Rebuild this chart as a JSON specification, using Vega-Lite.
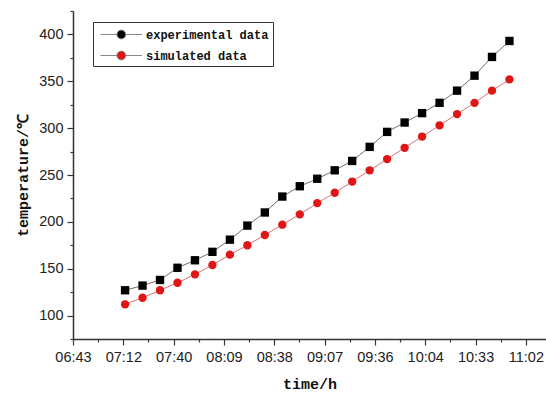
{
  "$schema": "https://vega.github.io/schema/vega-lite/v6.json",
  "width": 473,
  "height": 328,
  "autosize": {"type": "none"},
  "padding": {"left": 73, "top": 11, "right": 0, "bottom": 55},
  "background": "white",
  "config": {"view": {"stroke": null}},
  "data": {
    "values": [
      {"time": "2020-01-01T07:13:00Z", "series": "experimental data", "temp": 127},
      {"time": "2020-01-01T07:23:00Z", "series": "experimental data", "temp": 132},
      {"time": "2020-01-01T07:33:00Z", "series": "experimental data", "temp": 138},
      {"time": "2020-01-01T07:43:00Z", "series": "experimental data", "temp": 151},
      {"time": "2020-01-01T07:53:00Z", "series": "experimental data", "temp": 159},
      {"time": "2020-01-01T08:03:00Z", "series": "experimental data", "temp": 168},
      {"time": "2020-01-01T08:13:00Z", "series": "experimental data", "temp": 181},
      {"time": "2020-01-01T08:23:00Z", "series": "experimental data", "temp": 196},
      {"time": "2020-01-01T08:33:00Z", "series": "experimental data", "temp": 210},
      {"time": "2020-01-01T08:43:00Z", "series": "experimental data", "temp": 227},
      {"time": "2020-01-01T08:53:00Z", "series": "experimental data", "temp": 238},
      {"time": "2020-01-01T09:03:00Z", "series": "experimental data", "temp": 246},
      {"time": "2020-01-01T09:13:00Z", "series": "experimental data", "temp": 255},
      {"time": "2020-01-01T09:23:00Z", "series": "experimental data", "temp": 265},
      {"time": "2020-01-01T09:33:00Z", "series": "experimental data", "temp": 280},
      {"time": "2020-01-01T09:43:00Z", "series": "experimental data", "temp": 296},
      {"time": "2020-01-01T09:53:00Z", "series": "experimental data", "temp": 306},
      {"time": "2020-01-01T10:03:00Z", "series": "experimental data", "temp": 316},
      {"time": "2020-01-01T10:13:00Z", "series": "experimental data", "temp": 327},
      {"time": "2020-01-01T10:23:00Z", "series": "experimental data", "temp": 340},
      {"time": "2020-01-01T10:33:00Z", "series": "experimental data", "temp": 356},
      {"time": "2020-01-01T10:43:00Z", "series": "experimental data", "temp": 376},
      {"time": "2020-01-01T10:53:00Z", "series": "experimental data", "temp": 393},
      {"time": "2020-01-01T07:13:00Z", "series": "simulated data", "temp": 112},
      {"time": "2020-01-01T07:23:00Z", "series": "simulated data", "temp": 119},
      {"time": "2020-01-01T07:33:00Z", "series": "simulated data", "temp": 127},
      {"time": "2020-01-01T07:43:00Z", "series": "simulated data", "temp": 135},
      {"time": "2020-01-01T07:53:00Z", "series": "simulated data", "temp": 144},
      {"time": "2020-01-01T08:03:00Z", "series": "simulated data", "temp": 154},
      {"time": "2020-01-01T08:13:00Z", "series": "simulated data", "temp": 165},
      {"time": "2020-01-01T08:23:00Z", "series": "simulated data", "temp": 175},
      {"time": "2020-01-01T08:33:00Z", "series": "simulated data", "temp": 186},
      {"time": "2020-01-01T08:43:00Z", "series": "simulated data", "temp": 197},
      {"time": "2020-01-01T08:53:00Z", "series": "simulated data", "temp": 208},
      {"time": "2020-01-01T09:03:00Z", "series": "simulated data", "temp": 220},
      {"time": "2020-01-01T09:13:00Z", "series": "simulated data", "temp": 231},
      {"time": "2020-01-01T09:23:00Z", "series": "simulated data", "temp": 243},
      {"time": "2020-01-01T09:33:00Z", "series": "simulated data", "temp": 255},
      {"time": "2020-01-01T09:43:00Z", "series": "simulated data", "temp": 267},
      {"time": "2020-01-01T09:53:00Z", "series": "simulated data", "temp": 279},
      {"time": "2020-01-01T10:03:00Z", "series": "simulated data", "temp": 291},
      {"time": "2020-01-01T10:13:00Z", "series": "simulated data", "temp": 303},
      {"time": "2020-01-01T10:23:00Z", "series": "simulated data", "temp": 315},
      {"time": "2020-01-01T10:33:00Z", "series": "simulated data", "temp": 327},
      {"time": "2020-01-01T10:43:00Z", "series": "simulated data", "temp": 340},
      {"time": "2020-01-01T10:53:00Z", "series": "simulated data", "temp": 352}
    ]
  },
  "encoding": {
    "x": {
      "field": "time",
      "type": "temporal",
      "scale": {
        "type": "utc",
        "nice": false,
        "domain": [
          {"year": 2020, "month": 1, "date": 1, "hours": 6, "minutes": 43, "seconds": 12, "utc": true},
          {"year": 2020, "month": 1, "date": 1, "hours": 11, "minutes": 13, "seconds": 55, "utc": true}
        ]
      },
      "axis": {
        "title": "time/h",
        "format": "%H:%M",
        "grid": false,
        "values": [
          {"year": 2020, "month": 1, "date": 1, "hours": 6, "minutes": 43, "seconds": 12, "utc": true},
          {"year": 2020, "month": 1, "date": 1, "hours": 6, "minutes": 57, "seconds": 36, "utc": true},
          {"year": 2020, "month": 1, "date": 1, "hours": 7, "minutes": 12, "seconds": 0, "utc": true},
          {"year": 2020, "month": 1, "date": 1, "hours": 7, "minutes": 26, "seconds": 24, "utc": true},
          {"year": 2020, "month": 1, "date": 1, "hours": 7, "minutes": 40, "seconds": 48, "utc": true},
          {"year": 2020, "month": 1, "date": 1, "hours": 7, "minutes": 55, "seconds": 12, "utc": true},
          {"year": 2020, "month": 1, "date": 1, "hours": 8, "minutes": 9, "seconds": 36, "utc": true},
          {"year": 2020, "month": 1, "date": 1, "hours": 8, "minutes": 24, "seconds": 0, "utc": true},
          {"year": 2020, "month": 1, "date": 1, "hours": 8, "minutes": 38, "seconds": 24, "utc": true},
          {"year": 2020, "month": 1, "date": 1, "hours": 8, "minutes": 52, "seconds": 48, "utc": true},
          {"year": 2020, "month": 1, "date": 1, "hours": 9, "minutes": 7, "seconds": 12, "utc": true},
          {"year": 2020, "month": 1, "date": 1, "hours": 9, "minutes": 21, "seconds": 36, "utc": true},
          {"year": 2020, "month": 1, "date": 1, "hours": 9, "minutes": 36, "seconds": 0, "utc": true},
          {"year": 2020, "month": 1, "date": 1, "hours": 9, "minutes": 50, "seconds": 24, "utc": true},
          {"year": 2020, "month": 1, "date": 1, "hours": 10, "minutes": 4, "seconds": 48, "utc": true},
          {"year": 2020, "month": 1, "date": 1, "hours": 10, "minutes": 19, "seconds": 12, "utc": true},
          {"year": 2020, "month": 1, "date": 1, "hours": 10, "minutes": 33, "seconds": 36, "utc": true},
          {"year": 2020, "month": 1, "date": 1, "hours": 10, "minutes": 48, "seconds": 0, "utc": true},
          {"year": 2020, "month": 1, "date": 1, "hours": 11, "minutes": 2, "seconds": 24, "utc": true}
        ],
        "labelExpr": "round((datum.value - utc(2020,0,1,6,43,12)) / 864000) % 2 === 0 ? datum.label : ''",
        "tickSize": {"condition": {"test": "round((datum.value - utc(2020,0,1,6,43,12)) / 864000) % 2 === 0", "value": 6}, "value": 3},
        "labelFont": "Liberation Sans",
        "labelFontSize": 14.5,
        "labelColor": "#222",
        "labelPadding": 5,
        "labelFlush": false,
        "labelOverlap": false,
        "domainColor": "#333",
        "domainWidth": 1.5,
        "tickColor": "#333",
        "tickWidth": 1.2,
        "titleFont": "Liberation Mono",
        "titleFontWeight": "bold",
        "titleFontSize": 15,
        "titleColor": "#111",
        "titlePadding": 13
      }
    },
    "y": {
      "field": "temp",
      "type": "quantitative",
      "scale": {"domain": [75, 425], "nice": false, "zero": false},
      "axis": {
        "title": "temperature/℃",
        "grid": false,
        "values": [75, 100, 125, 150, 175, 200, 225, 250, 275, 300, 325, 350, 375, 400, 425],
        "labelExpr": "datum.value % 50 === 0 ? datum.label : ''",
        "tickSize": {"condition": {"test": "datum.value % 50 === 0", "value": 6}, "value": 3},
        "labelFont": "Liberation Sans",
        "labelFontSize": 14.5,
        "labelColor": "#222",
        "labelPadding": 4,
        "labelFlush": false,
        "labelOverlap": false,
        "domainColor": "#333",
        "domainWidth": 1.5,
        "tickColor": "#333",
        "tickWidth": 1.2,
        "titleFont": "Liberation Mono",
        "titleFontWeight": "bold",
        "titleFontSize": 15,
        "titleColor": "#111",
        "titlePadding": 8
      }
    }
  },
  "layer": [
    {
      "mark": {"type": "line", "strokeWidth": 1},
      "encoding": {
        "stroke": {
          "field": "series",
          "type": "nominal",
          "scale": {"domain": ["simulated data", "experimental data"], "range": ["#e07070", "#6e6e6e"]},
          "legend": null
        }
      }
    },
    {
      "mark": {"type": "point", "filled": true, "opacity": 1, "size": 70},
      "encoding": {
        "color": {
          "field": "series",
          "type": "nominal",
          "scale": {"domain": ["experimental data", "simulated data"], "range": ["#000000", "#e01515"]},
          "legend": {
            "title": null,
            "orient": "none",
            "legendX": 20,
            "legendY": 11,
            "strokeColor": "#333",
            "fillColor": "white",
            "padding": 4,
            "symbolSize": 256,
            "symbolOffset": 15.8,
            "labelOffset": 16.2,
            "rowPadding": 6,
            "symbolType": "M-2.6,0H-0.55M0.55,0H2.6M-0.55,0A0.55,0.55 0 1,0 0.55,0A0.55,0.55 0 1,0 -0.55,0Z",
            "symbolStrokeColor": "#888888",
            "symbolStrokeWidth": 1,
            "labelFont": "Liberation Mono",
            "labelFontWeight": "bold",
            "labelFontSize": 12,
            "labelColor": "#111"
          }
        },
        "shape": {
          "field": "series",
          "type": "nominal",
          "scale": {"domain": ["simulated data", "experimental data"], "range": ["circle", "square"]},
          "legend": null
        }
      }
    }
  ]
}
